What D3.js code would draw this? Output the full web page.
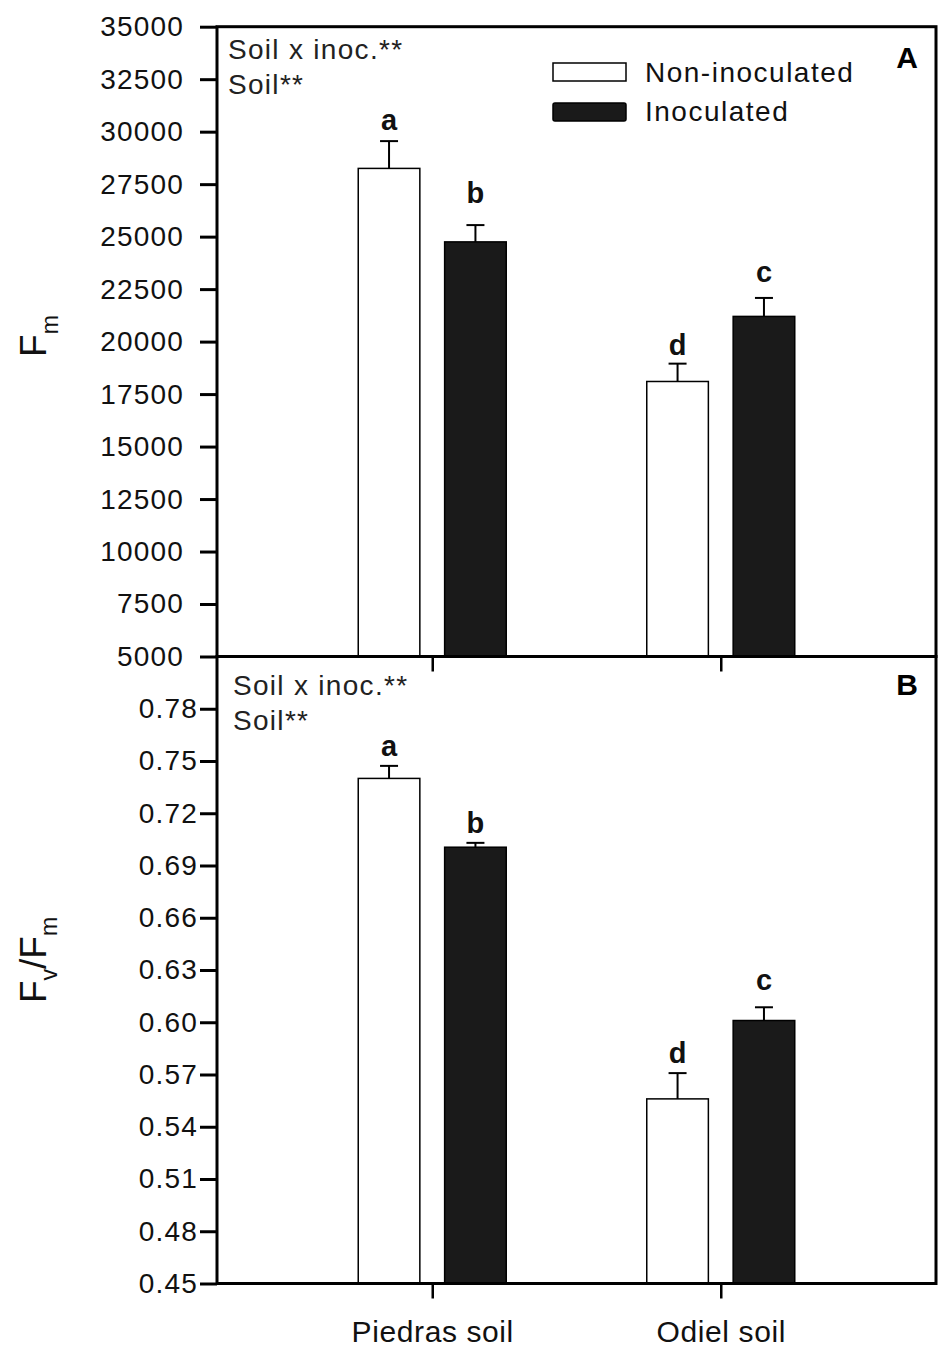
<!DOCTYPE html>
<html>
<head>
<meta charset="utf-8">
<script src="https://cdn.jsdelivr.net/npm/d3@7"></script>
<style>
    body { margin: 0; background: #fff; }
    text { font-family: "Liberation Sans", Arial, sans-serif; }
</style>
</head>
<body>
<div id="chart"></div>
<script>
// ---- data ----
const soils = ['Piedras soil', 'Odiel soil'];
const treatments = ['Non-inoculated', 'Inoculated'];

// Panel A: Fm
const fmNonInoc = [28250, 18100];
const fmInoc = [24750, 21200];
const fmErrNonInoc = [1300, 850];
const fmErrInoc = [800, 880];
const fmLetterNonInoc = ['a', 'd'];
const fmLetterInoc = ['b', 'c'];
const fmLetterAtNonInoc = [30080, 19370];   // height of the letter baseline, data units
const fmLetterAtInoc = [26600, 22860];
const fmTicks = [5000, 7500, 10000, 12500, 15000, 17500, 20000, 22500, 25000, 27500, 30000, 32500, 35000];

// Panel B: Fv/Fm
const fvNonInoc = [0.740, 0.556];
const fvInoc = [0.7005, 0.601];
const fvErrNonInoc = [0.0072, 0.0148];
const fvErrInoc = [0.0025, 0.0076];
const fvLetterNonInoc = ['a', 'd'];
const fvLetterInoc = ['b', 'c'];
const fvLetterAtNonInoc = [0.7526, 0.5765];
const fvLetterAtInoc = [0.7085, 0.6184];
const fvTicks = [0.45, 0.48, 0.51, 0.54, 0.57, 0.60, 0.63, 0.66, 0.69, 0.72, 0.75, 0.78];

const annotations = ['Soil x inoc.**', 'Soil**'];

// ---- layout ----
const width = 950;
const height = 1360;
const left = 217;
const right = 936;

const svg = d3.select('#chart')
    .append('svg')
    .attr('width', width)
    .attr('height', height);

const x = d3.scalePoint()
    .domain(soils)
    .range([left, right])
    .padding(0.746);

const xSub = d3.scaleBand()
    .domain(treatments)
    .range([-74, 74])
    .paddingInner(0.287);

const fills = { 'Non-inoculated': '#fff', 'Inoculated': '#1a1a1a' };

const makeRows = (nonInoc, inoc, errNon, errInoc, letNon, letInoc, atNon, atInoc) => {
    const rows = [];
    soils.forEach((s, i) => {
        rows.push({ soil: s, t: treatments[0], v: nonInoc[i], e: errNon[i], letter: letNon[i], at: atNon[i] });
        rows.push({ soil: s, t: treatments[1], v: inoc[i], e: errInoc[i], letter: letInoc[i], at: atInoc[i] });
    });
    return rows;
};

const drawPanel = cfg => {
    const y = d3.scaleLinear()
        .domain(cfg.domain)
        .range([cfg.bottom, cfg.top]);

    const g = svg.append('g');

    // bars
    g.selectAll('rect.bar')
        .data(cfg.rows)
        .enter()
        .append('rect')
        .attr('class', 'bar')
        .attr('x', d => x(d.soil) + xSub(d.t))
        .attr('y', d => y(d.v))
        .attr('width', xSub.bandwidth())
        .attr('height', d => y(cfg.domain[0]) - y(d.v))
        .attr('fill', d => fills[d.t])
        .attr('stroke', '#000')
        .attr('stroke-width', 1.5);

    // error bars (upper only)
    const cx = d => x(d.soil) + xSub(d.t) + xSub.bandwidth() / 2;
    g.selectAll('line.err')
        .data(cfg.rows)
        .enter()
        .append('line')
        .attr('x1', cx)
        .attr('x2', cx)
        .attr('y1', d => y(d.v))
        .attr('y2', d => y(d.v + d.e))
        .attr('stroke', '#000')
        .attr('stroke-width', 2);

    g.selectAll('line.cap')
        .data(cfg.rows)
        .enter()
        .append('line')
        .attr('x1', d => cx(d) - 9)
        .attr('x2', d => cx(d) + 9)
        .attr('y1', d => y(d.v + d.e))
        .attr('y2', d => y(d.v + d.e))
        .attr('stroke', '#000')
        .attr('stroke-width', 2);

    // significance letters
    g.selectAll('text.letter')
        .data(cfg.rows)
        .enter()
        .append('text')
        .attr('x', cx)
        .attr('y', d => y(d.at))
        .attr('text-anchor', 'middle')
        .style('font-size', '29px')
        .style('font-weight', 'bold')
        .style('fill', '#111')
        .text(d => d.letter);

    // frame
    g.append('rect')
        .attr('x', left)
        .attr('y', cfg.top)
        .attr('width', right - left)
        .attr('height', cfg.bottom - cfg.top)
        .attr('fill', 'none')
        .attr('stroke', '#000')
        .attr('stroke-width', 3);

    // y axis
    const ay = g.append('g')
        .attr('transform', `translate(${left},0)`)
        .call(d3.axisLeft(y)
            .tickValues(cfg.ticks)
            .tickFormat(cfg.format)
            .tickSize(17)
            .tickSizeOuter(0)
            .tickPadding(cfg.labelPad));
    ay.select('.domain').remove();
    ay.selectAll('.tick line').attr('stroke', '#000').attr('stroke-width', 3);
    ay.selectAll('.tick text')
        .style('font-size', '28px')
        .style('letter-spacing', '1.2px')
        .style('fill', '#111');

    // x axis ticks
    const ax = g.append('g')
        .attr('transform', `translate(0,${cfg.bottom})`)
        .call(d3.axisBottom(x)
            .tickSize(15)
            .tickSizeOuter(0)
            .tickPadding(22)
            .tickFormat(cfg.xLabels ? (d => d) : () => ''));
    ax.select('.domain').remove();
    ax.selectAll('.tick line').attr('stroke', '#000').attr('stroke-width', 2.5);
    ax.selectAll('.tick text')
        .style('font-size', '30px')
        .style('letter-spacing', '0.6px')
        .style('fill', '#111');

    // statistics annotation
    g.selectAll('text.note')
        .data(annotations)
        .enter()
        .append('text')
        .attr('x', cfg.noteX)
        .attr('y', (d, i) => cfg.noteY + i * 34.5)
        .style('font-size', '28px')
        .style('letter-spacing', '1.3px')
        .style('fill', '#222')
        .text(d => d);

    // panel letter
    g.append('text')
        .attr('x', 907)
        .attr('y', cfg.panelY)
        .attr('text-anchor', 'middle')
        .style('font-size', '30px')
        .style('font-weight', 'bold')
        .style('fill', '#000')
        .text(cfg.panel);

    // y title
    const title = g.append('text')
        .attr('transform', `translate(46,${cfg.titleY}) rotate(-90)`)
        .attr('text-anchor', 'middle')
        .style('fill', '#111');
    cfg.title.forEach(p => {
        title.append('tspan')
            .attr('dy', p.dy)
            .style('font-size', p.sub ? '23px' : '37px')
            .text(p.s);
    });

    return y;
};

drawPanel({
    rows: makeRows(fmNonInoc, fmInoc, fmErrNonInoc, fmErrInoc,
        fmLetterNonInoc, fmLetterInoc, fmLetterAtNonInoc, fmLetterAtInoc),
    top: 26.7,
    bottom: 656.5,
    domain: [5000, 35000],
    ticks: fmTicks,
    format: d3.format('d'),
    labelPad: 16,
    xLabels: false,
    noteX: 228,
    noteY: 59,
    panel: 'A',
    panelY: 68,
    titleY: 336,
    title: [{ s: 'F', dy: 0 }, { s: 'm', dy: 12, sub: true }]
});

drawPanel({
    rows: makeRows(fvNonInoc, fvInoc, fvErrNonInoc, fvErrInoc,
        fvLetterNonInoc, fvLetterInoc, fvLetterAtNonInoc, fvLetterAtInoc),
    top: 656.5,
    bottom: 1283.5,
    domain: [0.45, 0.81],
    ticks: fvTicks,
    format: d3.format('.2f'),
    labelPad: 2,
    xLabels: true,
    noteX: 233,
    noteY: 695,
    panel: 'B',
    panelY: 695,
    titleY: 960,
    title: [
        { s: 'F', dy: 0 },
        { s: 'v', dy: 11, sub: true },
        { s: '/', dy: -11 },
        { s: 'F', dy: 0 },
        { s: 'm', dy: 11, sub: true }
    ]
});

// legend (panel A)
const legend = svg.append('g');
legend.selectAll('rect')
    .data(treatments)
    .enter()
    .append('rect')
    .attr('x', 553)
    .attr('y', (d, i) => 63 + i * 40)
    .attr('width', 73)
    .attr('height', 18)
    .attr('rx', (d, i) => i * 2)
    .attr('fill', d => fills[d])
    .attr('stroke', '#000')
    .attr('stroke-width', 1.5);

legend.selectAll('text')
    .data(treatments)
    .enter()
    .append('text')
    .attr('x', 645)
    .attr('y', (d, i) => 82 + i * 39)
    .style('font-size', '28px')
    .style('letter-spacing', '1.5px')
    .style('fill', '#111')
    .text(d => d);
</script>
</body>
</html>
